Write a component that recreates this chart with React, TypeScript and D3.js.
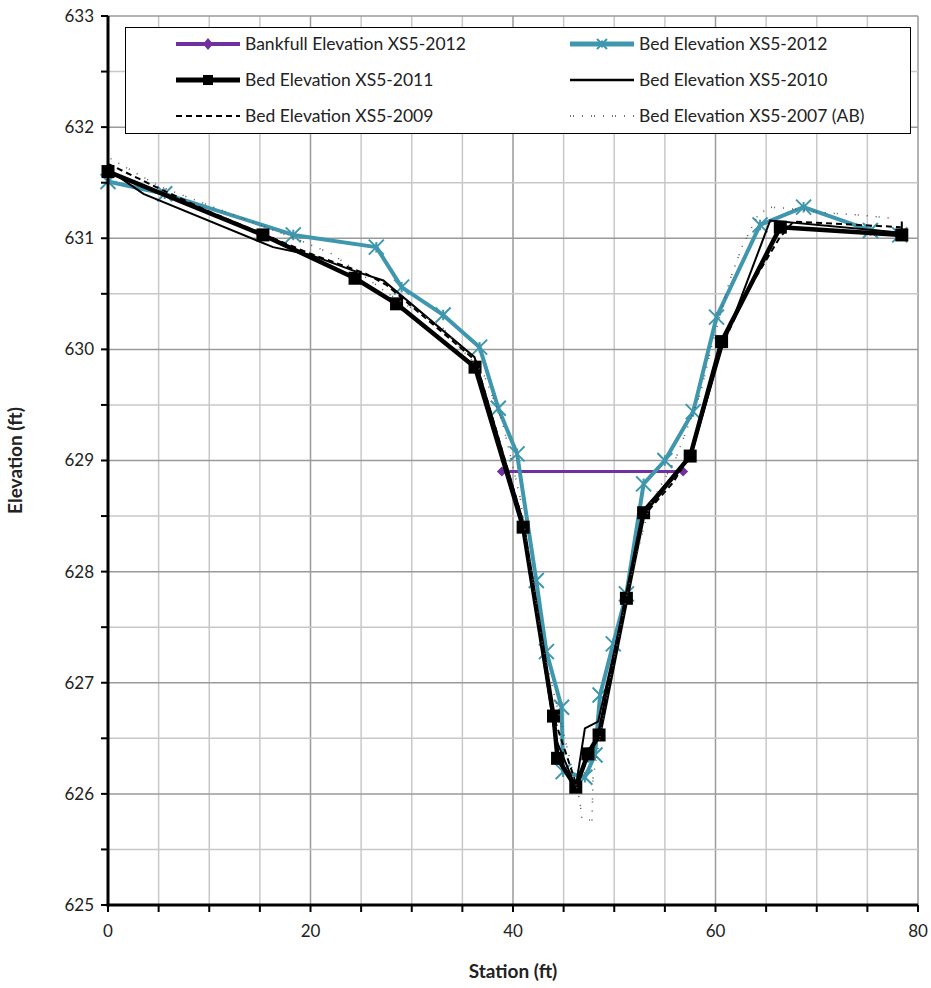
import { useEffect } from "react";
import * as d3 from "d3";

type Pt = [number, number];

// station (ft), elevation (ft)
const bankfull2012: Pt[] = [[38.9, 628.9], [56.8, 628.9]];

const bed2012: Pt[] = [
  [0, 631.51], [5.6, 631.4], [18.3, 631.03], [26.5, 630.92], [29.0, 630.56],
  [33.1, 630.31], [36.7, 630.02], [38.55, 629.47], [40.4, 629.06], [42.3, 627.92],
  [43.3, 627.28], [44.8, 626.78], [44.95, 626.2], [47.1, 626.15], [48.1, 626.35],
  [48.6, 626.89], [49.9, 627.35], [51.2, 627.8], [52.9, 628.79], [55.0, 629.0],
  [57.8, 629.44], [60.1, 630.29], [64.4, 631.12], [68.7, 631.28], [75.3, 631.07],
  [78.2, 631.03],
];

const bed2011: Pt[] = [
  [0, 631.6], [15.3, 631.03], [24.4, 630.64], [28.5, 630.41], [36.25, 629.84],
  [41.0, 628.4], [44.0, 626.7], [44.4, 626.32], [46.2, 626.06], [47.4, 626.36],
  [48.5, 626.53], [51.2, 627.76], [52.9, 628.53], [57.5, 629.04], [60.6, 630.07],
  [66.4, 631.1], [78.4, 631.03],
];

const bed2010: Pt[] = [
  [0, 631.62], [3.5, 631.4], [16.3, 630.92], [20.0, 630.85], [24.5, 630.7],
  [27.2, 630.62], [36.2, 629.93], [41.0, 628.45], [44.2, 626.5], [46.2, 626.06],
  [47.1, 626.59], [48.4, 626.65], [51.3, 627.8], [53.0, 628.57], [57.2, 629.0],
  [57.8, 629.12], [60.6, 630.0], [65.4, 631.16], [78.4, 631.05], [78.4, 631.15],
];

const bed2009: Pt[] = [
  [0, 631.67], [5, 631.45], [10, 631.24], [15, 631.05], [20, 630.86],
  [25.5, 630.68], [27.5, 630.58], [36.3, 629.9], [41.0, 628.45], [44.0, 626.7],
  [46.2, 626.1], [47.6, 626.35], [48.6, 626.55], [51.2, 627.75], [52.9, 628.5],
  [55.8, 628.8], [57.7, 629.08], [60.5, 630.0], [63.0, 630.5], [66.3, 631.0],
  [67.7, 631.15], [78.3, 631.1],
];

const bed2007: Pt[] = [
  [0, 631.73], [5, 631.47], [19.0, 630.98], [22.1, 630.86], [26.5, 630.58],
  [27.7, 630.5], [33.0, 630.2], [37.1, 629.78], [38.9, 629.36], [39.7, 629.06],
  [40.7, 628.67], [43.0, 627.3], [45.8, 626.24], [46.6, 625.94], [46.8, 625.78],
  [47.8, 625.76], [47.9, 626.14], [49.5, 627.0], [51.5, 627.9], [53.5, 628.6],
  [56.0, 629.0], [58.5, 629.6], [59.6, 630.02], [61.4, 630.62], [62.6, 630.92],
  [64.2, 631.21], [65.4, 631.28], [67.0, 631.27], [70.7, 631.23], [74.1, 631.21],
  [77.4, 631.18],
];

const xTickValues = [0, 20, 40, 60, 80];
const yTickValues = [625, 626, 627, 628, 629, 630, 631, 632, 633];

const W = 931;
const H = 988;
const M = { left: 108, right: 13, top: 16, bottom: 83 };
const FONT = "Lato, 'Open Sans', sans-serif";
const TEAL = "#3F97AE";
const PURPLE = "#7030A0";

const x = d3.scaleLinear().domain([0, 80]).range([M.left, W - M.right]);
const y = d3.scaleLinear().domain([625, 633]).range([H - M.bottom, M.top]);
const line = d3.line<Pt>().x((d) => x(d[0])).y((d) => y(d[1]));

const starPath = (s: number) =>
  `M${-s},${-s}L${s},${s}M${-s},${s}L${s},${-s}M0,${-s * 0.7}L0,${s * 0.7}`;

const Stars = ({ data }: { data: Pt[] }) => (
  <g>
    {data.map((d, i) => (
      <path key={i} d={starPath(7.5)} transform={`translate(${x(d[0])},${y(d[1])})`}
        stroke={TEAL} strokeWidth={2} fill="none" />
    ))}
  </g>
);

const Squares = ({ data }: { data: Pt[] }) => (
  <g>
    {data.map((d, i) => (
      <rect key={i} x={x(d[0]) - 6.5} y={y(d[1]) - 6.5} width={13} height={13} fill="#000" />
    ))}
  </g>
);

const Diamonds = ({ data }: { data: Pt[] }) => (
  <g>
    {data.map((d, i) => (
      <path key={i} d="M0,-5L5,0L0,5L-5,0Z" transform={`translate(${x(d[0])},${y(d[1])})`} fill={PURPLE} />
    ))}
  </g>
);

const legendRows = [
  { name: "Bankfull Elevation XS5-2012", col: 0, row: 0 },
  { name: "Bed Elevation XS5-2012", col: 1, row: 0 },
  { name: "Bed Elevation XS5-2011", col: 0, row: 1 },
  { name: "Bed Elevation XS5-2010", col: 1, row: 1 },
  { name: "Bed Elevation XS5-2009", col: 0, row: 2 },
  { name: "Bed Elevation XS5-2007 (AB)", col: 1, row: 2 },
];

const LegendSwatch = ({ idx, x0, yy }: { idx: number; x0: number; yy: number }) => {
  const x1 = x0 + 64;
  const cx = (x0 + x1) / 2;
  switch (idx) {
    case 0:
      return (
        <g>
          <line x1={x0} x2={x1} y1={yy} y2={yy} stroke={PURPLE} strokeWidth={4} />
          <path d="M0,-6L5,0L0,6L-5,0Z" transform={`translate(${cx},${yy})`} fill={PURPLE} />
        </g>
      );
    case 1:
      return (
        <g>
          <line x1={x0} x2={x1} y1={yy} y2={yy} stroke={TEAL} strokeWidth={5} />
          <path d={starPath(5)} transform={`translate(${cx},${yy})`} stroke={TEAL} strokeWidth={2} fill="none" />
        </g>
      );
    case 2:
      return (
        <g>
          <line x1={x0} x2={x1} y1={yy} y2={yy} stroke="#000" strokeWidth={5} />
          <rect x={cx - 5} y={yy - 5} width={10} height={10} fill="#000" />
        </g>
      );
    case 3:
      return <line x1={x0} x2={x1} y1={yy} y2={yy} stroke="#000" strokeWidth={2.5} />;
    case 4:
      return <line x1={x0} x2={x1} y1={yy} y2={yy} stroke="#000" strokeWidth={2} strokeDasharray="6,4" />;
    default:
      return <line x1={x0} x2={x1} y1={yy} y2={yy} stroke="#444" strokeWidth={1.5} strokeDasharray="1,2,1,8,1,8" />;
  }
};

export default function App() {
  useEffect(() => {
    document.body.style.margin = "0";
  }, []);

  const xMinor = d3.range(0, 80.01, 5);
  const yMinor = d3.range(625, 633.01, 0.5);
  const left = x(0);
  const right = x(80);
  const top = y(633);
  const bottom = y(625);

  return (
    <svg width={W} height={H} style={{ display: "block", background: "#fff" }} fontFamily={FONT}>
      {/* grid */}
      {xMinor.map((v) => (
        <line key={"gx" + v} x1={x(v)} x2={x(v)} y1={top} y2={bottom}
          stroke={v % 20 === 0 ? "#9a9a9a" : "#c8c8c8"} strokeWidth={1.5} />
      ))}
      {yMinor.map((v) => (
        <line key={"gy" + v} x1={left} x2={right} y1={y(v)} y2={y(v)}
          stroke={v % 1 === 0 ? "#9a9a9a" : "#c8c8c8"} strokeWidth={1.5} />
      ))}

      {/* series */}
      <path d={line(bankfull2012) || ""} fill="none" stroke={PURPLE} strokeWidth={3} />
      <Diamonds data={bankfull2012} />
      <path d={line(bed2012) || ""} fill="none" stroke={TEAL} strokeWidth={4} strokeLinejoin="round" />
      <Stars data={bed2012} />
      <path d={line(bed2011) || ""} fill="none" stroke="#000" strokeWidth={4.5} strokeLinejoin="round" />
      <Squares data={bed2011} />
      <path d={line(bed2010) || ""} fill="none" stroke="#000" strokeWidth={2} />
      <path d={line(bed2009) || ""} fill="none" stroke="#000" strokeWidth={2} strokeDasharray="6,4" />
      <path d={line(bed2007) || ""} fill="none" stroke="#555" strokeWidth={1.5} strokeDasharray="1,2,1,8,1,8" />

      {/* axes */}
      <line x1={left} x2={left} y1={top} y2={bottom + 1.5} stroke="#000" strokeWidth={3} />
      <line x1={left - 1.5} x2={right} y1={bottom} y2={bottom} stroke="#000" strokeWidth={3} />
      {yMinor.map((v) => (
        <line key={"ty" + v} x1={left - 7} x2={left} y1={y(v)} y2={y(v)} stroke="#000" strokeWidth={2} />
      ))}
      {xMinor.map((v) => (
        <line key={"tx" + v} x1={x(v)} x2={x(v)} y1={bottom} y2={bottom + 7} stroke="#000" strokeWidth={2} />
      ))}
      {yTickValues.map((v) => (
        <text key={"ly" + v} x={left - 14} y={y(v)} dy="0.35em" textAnchor="end" fontSize={17} fill="#222">
          {v}
        </text>
      ))}
      {xTickValues.map((v) => (
        <text key={"lx" + v} x={x(v)} y={bottom + 32} textAnchor="middle" fontSize={17} fill="#222">
          {v}
        </text>
      ))}
      <text x={(left + right) / 2} y={978} textAnchor="middle" fontSize={19} fontWeight="bold" fill="#222">
        Station (ft)
      </text>
      <text transform={`translate(22,${(top + bottom) / 2}) rotate(-90)`} textAnchor="middle"
        fontSize={19} fontWeight="bold" fill="#222">
        Elevation (ft)
      </text>

      {/* legend */}
      <rect x={125.5} y={27.5} width={785} height={106} fill="#fff" stroke="#000" strokeWidth={1} />
      {legendRows.map((r, i) => {
        const yy = 44 + r.row * 36;
        const x0 = r.col === 0 ? 176 : 570;
        return (
          <g key={r.name}>
            <LegendSwatch idx={i} x0={x0} yy={yy} />
            <text x={x0 + 69} y={yy} dy="0.35em" fontSize={17.5} fill="#222">
              {r.name}
            </text>
          </g>
        );
      })}
    </svg>
  );
}
